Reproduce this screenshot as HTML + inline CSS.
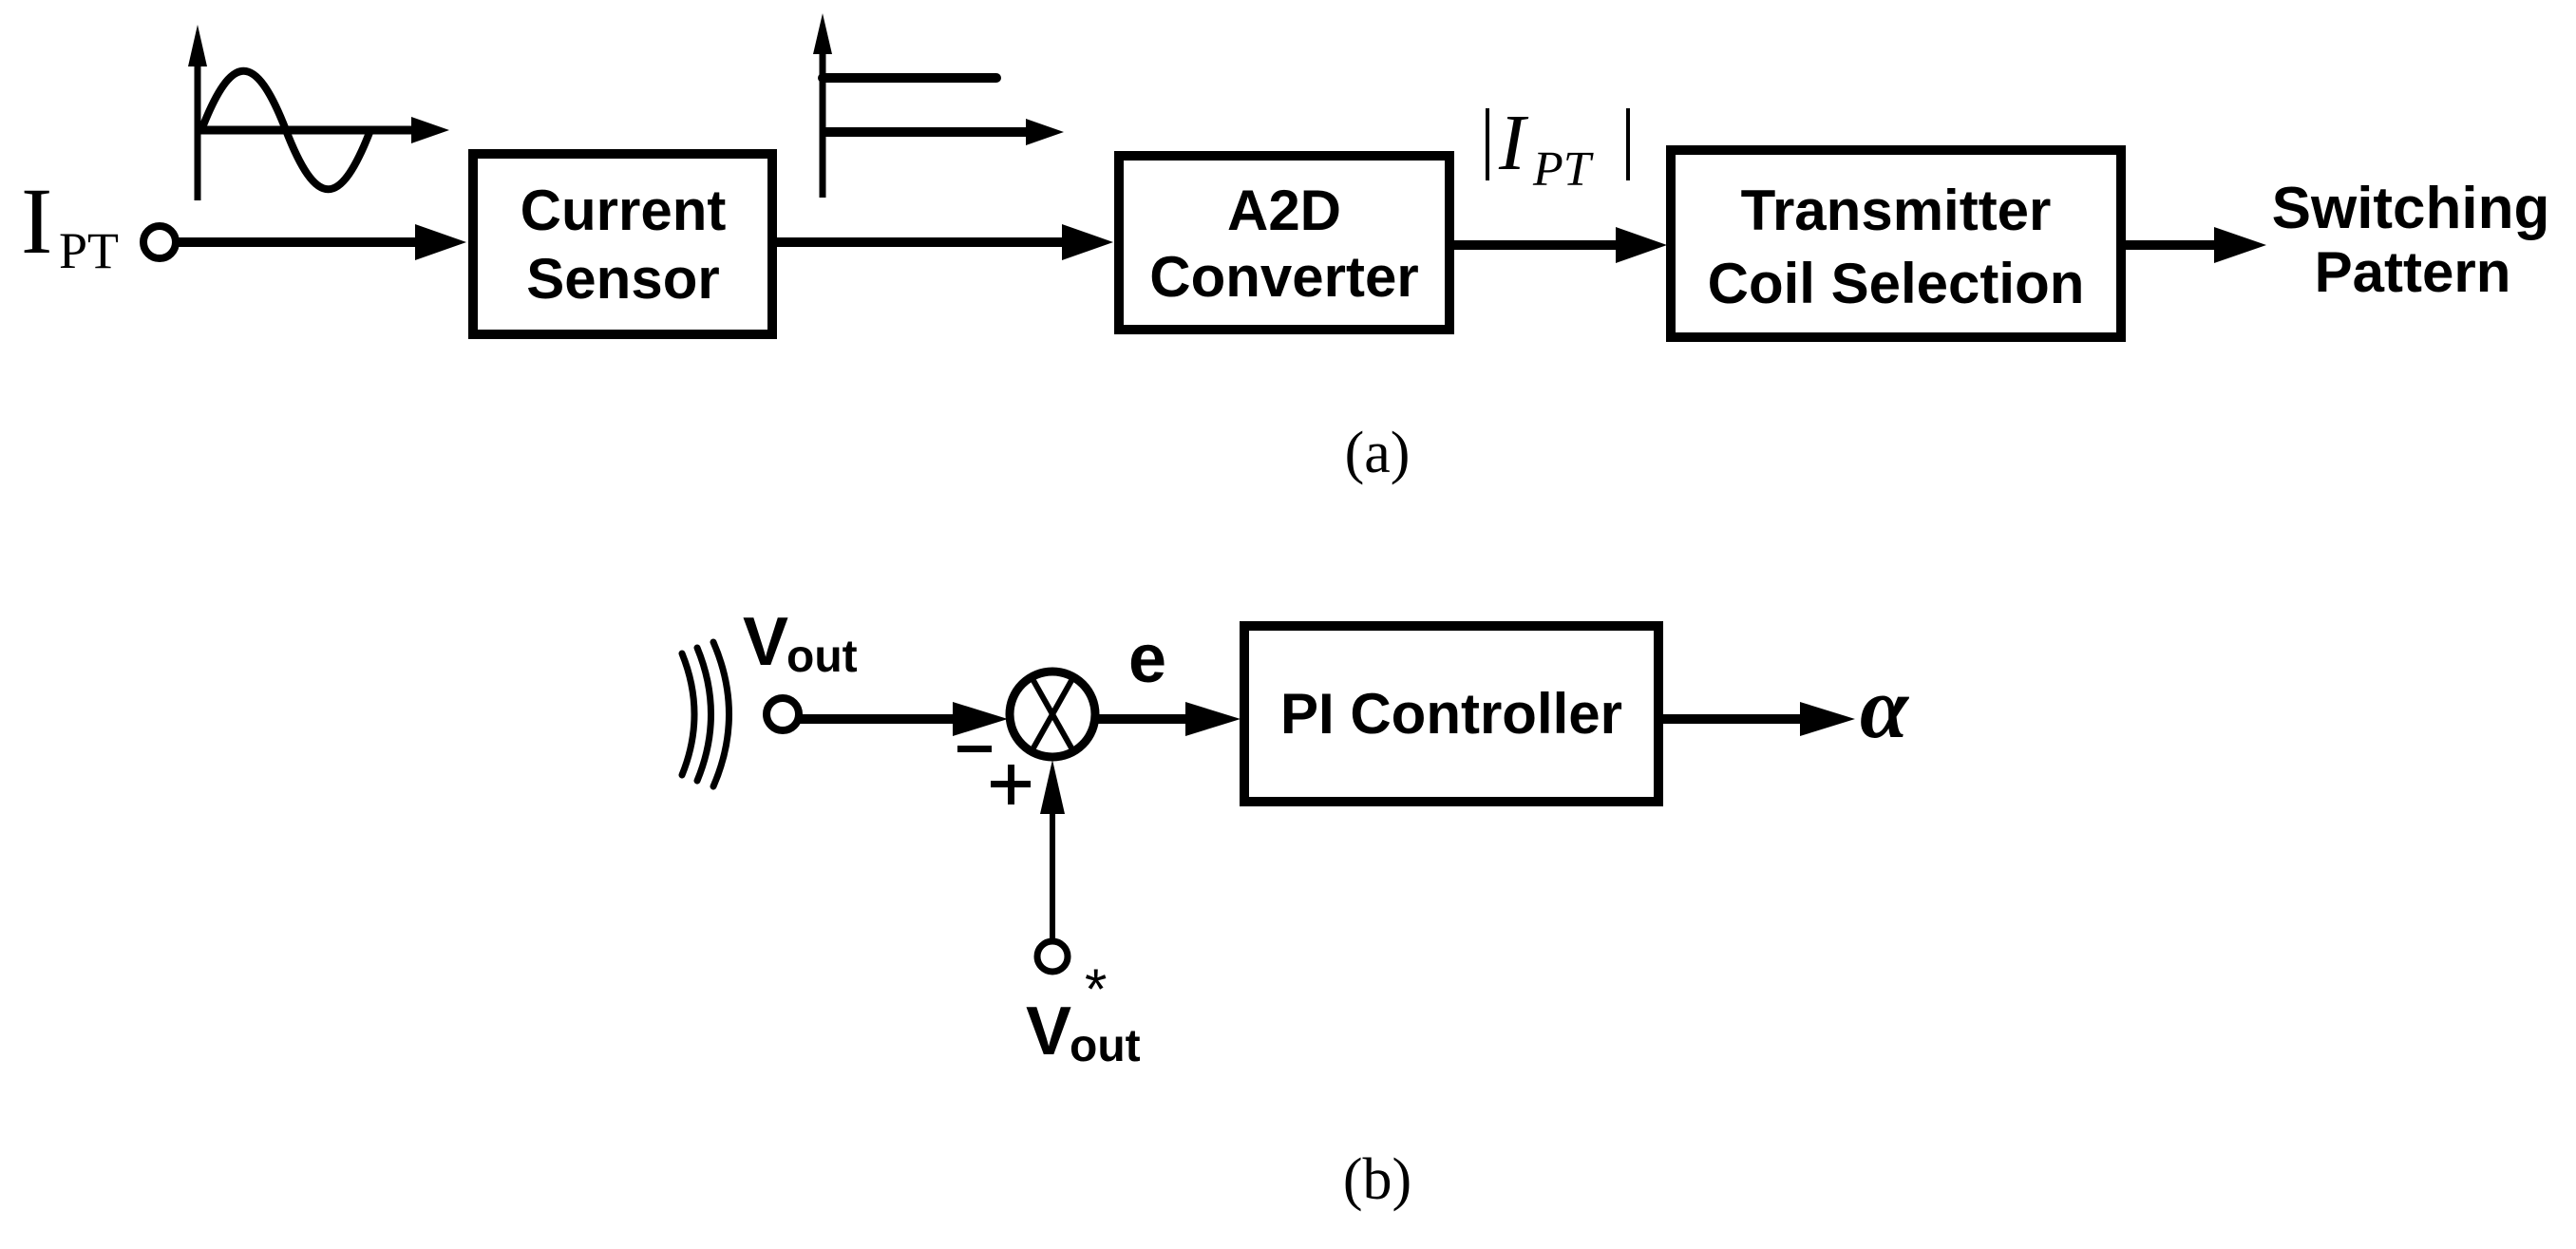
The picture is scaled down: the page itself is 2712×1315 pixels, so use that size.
<!DOCTYPE html>
<html><head><meta charset="utf-8"><style>html,body{margin:0;padding:0;background:#fff}svg{display:block}</style></head>
<body>
<svg width="2712" height="1315" viewBox="0 0 2712 1315" xmlns="http://www.w3.org/2000/svg">
<g fill="none" stroke="#000" stroke-width="9">
<line x1="208" y1="60" x2="208" y2="211" stroke-width="7"/>
<line x1="208" y1="137" x2="440" y2="137" stroke-width="9"/>
<path d="M212,137 C244,54 269,54 301,137 C333,220 358,220 390,137" stroke-width="8"/>
<line x1="866" y1="55" x2="866" y2="208" stroke-width="7"/>
<line x1="866" y1="82" x2="1049" y2="82" stroke-width="10" stroke-linecap="round"/>
<line x1="866" y1="139" x2="1085" y2="139" stroke-width="10"/>
<circle cx="168" cy="255" r="17" stroke-width="8"/>
<line x1="185" y1="255" x2="440" y2="255" stroke-width="10"/>
<rect x="498" y="162" width="315" height="190" stroke-width="10"/>
<line x1="813" y1="255" x2="1122" y2="255" stroke-width="10"/>
<rect x="1178" y="164" width="348" height="183" stroke-width="10"/>
<line x1="1526" y1="258" x2="1705" y2="258" stroke-width="10"/>
<rect x="1759" y="158" width="474" height="197" stroke-width="10"/>
<line x1="2233" y1="258" x2="2335" y2="258" stroke-width="10"/>
<line x1="1566" y1="114" x2="1566" y2="190" stroke-width="4"/>
<line x1="1714" y1="114" x2="1714" y2="190" stroke-width="4"/>
<path d="M718,688 Q744,752 718,816" stroke-width="7" stroke-linecap="round"/>
<path d="M734,682 Q763,752 734,822" stroke-width="7" stroke-linecap="round"/>
<path d="M751,676 Q784,752 751,828" stroke-width="7" stroke-linecap="round"/>
<circle cx="824" cy="752" r="17" stroke-width="8"/>
<line x1="841" y1="757" x2="1008" y2="757" stroke-width="10"/>
<circle cx="1108" cy="752" r="45" stroke-width="9"/>
<line x1="1086" y1="713" x2="1130" y2="791" stroke-width="6"/>
<line x1="1130" y1="713" x2="1086" y2="791" stroke-width="6"/>
<line x1="1154" y1="757" x2="1252" y2="757" stroke-width="10"/>
<rect x="1310" y="659" width="436" height="185" stroke-width="10"/>
<line x1="1746" y1="757" x2="1900" y2="757" stroke-width="10"/>
<line x1="1108" y1="850" x2="1108" y2="990" stroke-width="6"/>
<circle cx="1108" cy="1007" r="16" stroke-width="7"/>
</g>
<g fill="#000">
<polygon points="208,26 198,70 218,70"/>
<polygon points="433,123 473,137 433,151"/>
<polygon points="866,14 856,57 876,57"/>
<polygon points="1080,125 1120,139 1080,153"/>
<polygon points="437,236 491,255 437,274"/>
<polygon points="1118,236 1172,255 1118,274"/>
<polygon points="1701,239 1755,258 1701,277"/>
<polygon points="2331,239 2386,258 2331,277"/>
<polygon points="1003,739 1061,757 1003,775"/>
<polygon points="1248,739 1306,757 1248,775"/>
<polygon points="1895,739 1953,757 1895,775"/>
<polygon points="1108,800 1095,857 1121,857"/>
<rect x="1008" y="785" width="36" height="7"/>
<rect x="1043" y="822" width="42" height="7"/>
<rect x="1061" y="805" width="7" height="42"/>
</g>
<g font-family="Liberation Sans, sans-serif" font-weight="bold" font-size="60" text-anchor="middle" fill="#000">
<text x="656" y="242">Current</text>
<text x="656" y="314">Sensor</text>
<text x="1352" y="242">A2D</text>
<text x="1352" y="312">Converter</text>
<text x="1996" y="242">Transmitter</text>
<text x="1996" y="319">Coil Selection</text>
<text x="2538" y="240" font-size="62">Switching</text>
<text x="2540" y="307" font-size="60">Pattern</text>
<text x="1528" y="772" font-size="60">PI Controller</text>
<text x="1208" y="718" font-size="72">e</text>
</g>
<g font-family="Liberation Sans, sans-serif" font-weight="bold" fill="#000">
<text x="782" y="700" font-size="72">V</text><text x="828" y="707" font-size="48">out</text>
<text x="1080" y="1110" font-size="72">V</text><text x="1126" y="1117" font-size="48">out</text>
<text x="1142" y="1062" font-size="60" font-weight="normal">*</text>
</g>
<g font-family="Liberation Serif, serif" fill="#000">
<text x="22" y="266" font-size="100">I</text><text x="62" y="282" font-size="54">PT</text>
<text x="1578" y="178" font-size="84" font-style="italic">I</text><text x="1614" y="195" font-size="52" font-style="italic">PT</text>
<text x="1958" y="776" font-size="92" font-style="italic" font-weight="bold">α</text>
<text x="1450" y="497" font-size="62" text-anchor="middle">(a)</text>
<text x="1450" y="1262" font-size="62" text-anchor="middle">(b)</text>
</g>
</svg>
</body></html>
